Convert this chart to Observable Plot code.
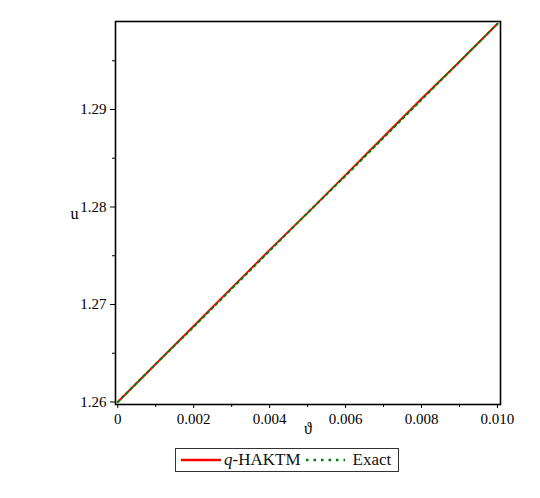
<!DOCTYPE html>
<html><head><meta charset="utf-8">
<script src="https://cdn.jsdelivr.net/npm/d3@7"></script>
<script src="https://cdn.jsdelivr.net/npm/@observablehq/plot@0.6"></script>
<style>
body{margin:0;background:#fff;font-family:"Liberation Serif",serif;}
#chart{position:relative;width:540px;height:498px;}
#legend{position:absolute;left:175px;top:448px;width:222px;height:22px;border:1px solid #333;display:flex;align-items:center;font-size:17px;color:#111;box-sizing:content-box;}
</style></head>
<body><div id="chart"><div id="plot"></div><div id="legend"></div></div>
<script>
const theta = [0,0.001,0.002,0.003,0.004,0.005,0.006,0.007,0.008,0.009,0.010];
const uHAKTM = [1.2600,1.2639,1.2678,1.2717,1.2756,1.2794,1.2833,1.2872,1.2911,1.2949,1.2988];
const uExact = [1.2600,1.2639,1.2677,1.2716,1.2755,1.2794,1.2832,1.2871,1.2910,1.2949,1.2988];
const xTicks = [0,0.002,0.004,0.006,0.008,0.010];
const xTickLabels = ["0","0.002","0.004","0.006","0.008","0.010"];
const xMinor = [0.001,0.003,0.005,0.007,0.009];
const yTicks = [1.26,1.27,1.28,1.29];
const yTickLabels = ["1.26","1.27","1.28","1.29"];
const yMinor = [1.265,1.275,1.285,1.295];
const seriesNames = ["q-HAKTM","Exact"];
const seriesColors = ["#ff0000","#008000"];

const hak = theta.map((t,i)=>({t,u:uHAKTM[i]}));
const ex = theta.map((t,i)=>({t,u:uExact[i]}));

const plot = Plot.plot({
  width:540, height:442,
  marginLeft:115, marginRight:40, marginTop:21, marginBottom:38,
  style:{fontFamily:"Liberation Serif", fontSize:"15px", color:"#000", background:"#fff"},
  x:{domain:[-0.00006,0.01008]},
  y:{domain:[1.25974,1.29903]},
  marks:[
    Plot.axisX({ticks:xTicks, tickFormat:(d,i)=>xTickLabels[i], tickSize:4, tickPadding:5, label:null, stroke:"#000"}),
    Plot.axisX({ticks:xMinor, tickFormat:()=>"", tickSize:3, label:null}),
    Plot.axisY({ticks:yTicks, tickFormat:(d,i)=>yTickLabels[i], tickSize:5, tickPadding:4, label:null}),
    Plot.axisY({ticks:yMinor, tickFormat:()=>"", tickSize:3, label:null}),
    Plot.frame({stroke:"#000", strokeWidth:1.6}),
    Plot.line(hak,{x:"t",y:"u",stroke:seriesColors[0],strokeWidth:2}),
    Plot.line(ex,{x:"t",y:"u",stroke:seriesColors[1],strokeWidth:2,strokeDasharray:"2,4"}),
    Plot.text(["ϑ"],{frameAnchor:"bottom",dy:29,fontSize:16}),
    Plot.text(["u"],{frameAnchor:"left",dx:-45,dy:1,fontSize:16})
  ]
});
document.getElementById("plot").appendChild(plot);

const lg = document.getElementById("legend");
lg.innerHTML = `<svg width="44" height="10" style="margin-left:4px"><line x1="1" y1="5" x2="41" y2="5" stroke="${seriesColors[0]}" stroke-width="2.5"/></svg>`+
 `<span><i>q</i>-HAKTM</span>`+
 `<svg width="42" height="10" style="margin-left:4px"><line x1="1" y1="5" x2="40" y2="5" stroke="${seriesColors[1]}" stroke-width="2.5" stroke-dasharray="2.5,5"/></svg>`+
 `<span style="margin-left:6px">Exact</span>`;
</script></body></html>
